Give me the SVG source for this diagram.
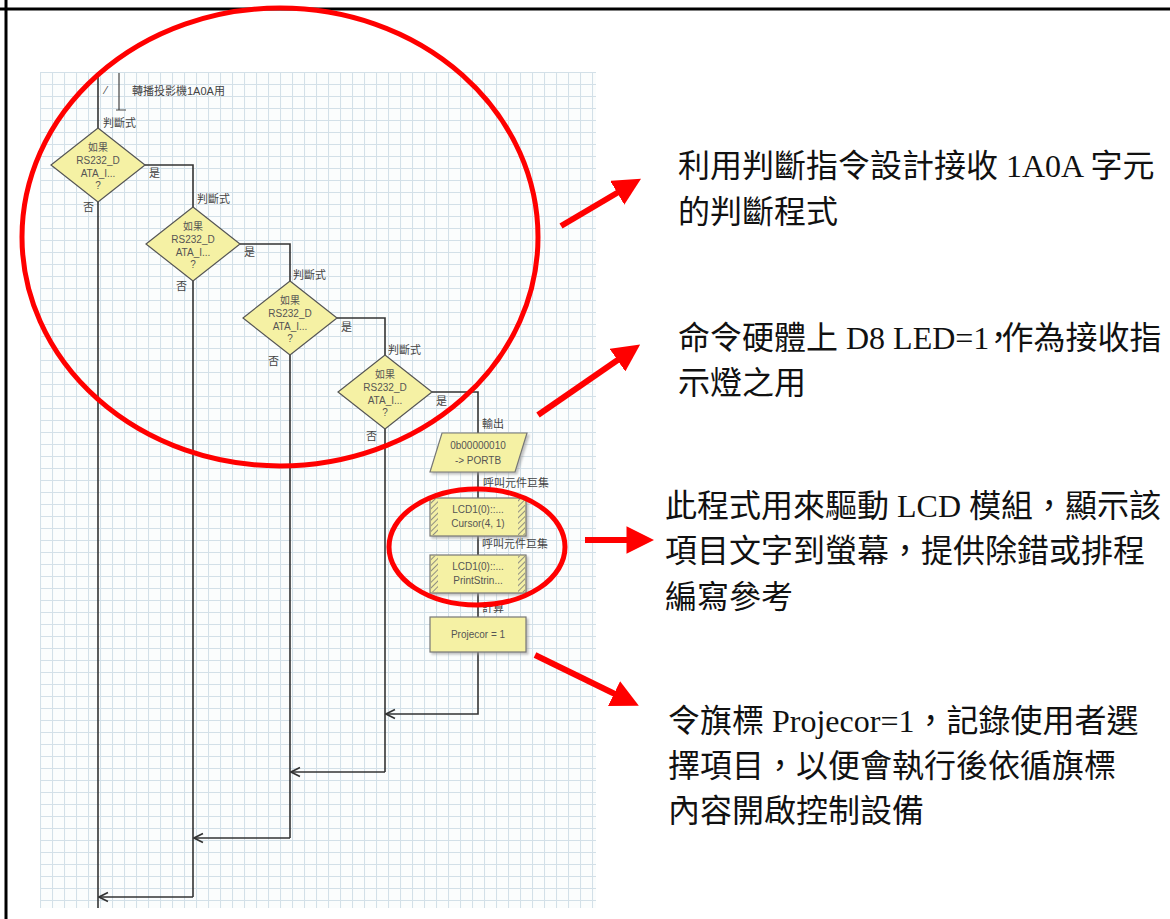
<svg xmlns="http://www.w3.org/2000/svg" width="1170" height="919" viewBox="0 0 1170 919">
<defs>
<pattern id="grid" x="40" y="72" width="12" height="12" patternUnits="userSpaceOnUse">
<path d="M0.5 0 V12 M0 0.5 H12" stroke="#d3e0e8" stroke-width="1.1" fill="none"/>
</pattern>
<pattern id="hatch" width="4" height="4" patternUnits="userSpaceOnUse" patternTransform="rotate(45)">
<rect width="4" height="4" fill="#f3efa6"/>
<line x1="0" y1="0" x2="0" y2="4" stroke="#777" stroke-width="1.6"/>
</pattern>
<marker id="chev" viewBox="0 0 10 10" refX="9" refY="5" markerWidth="7" markerHeight="7" orient="auto">
<path d="M1 1 L9 5 L1 9" fill="none" stroke="#333" stroke-width="1.5"/>
</marker>
<marker id="redhead" viewBox="0 0 10 10" refX="2" refY="5" markerWidth="4.6" markerHeight="4.6" orient="auto" markerUnits="strokeWidth">
<path d="M0 0 L10 5 L0 10 Z" fill="#ff0000"/>
</marker>
<filter id="sh" x="-10%" y="-10%" width="130%" height="140%">
<feDropShadow dx="2" dy="2" stdDeviation="1" flood-color="#999" flood-opacity="0.6"/>
</filter>
</defs>
<style>
.frame{stroke:#000;stroke-width:3;fill:none}
.dia{fill:#f5f1a4;stroke:#555;stroke-width:1.2}
.box{fill:#f5f1a4;stroke:#777;stroke-width:1.2}
.dt{font-family:"Liberation Sans","Noto Sans CJK TC",sans-serif;font-size:10px;fill:#555;text-anchor:middle}
.lb{font-family:"Liberation Sans","Noto Sans CJK TC",sans-serif;font-size:11px;fill:#444}
.wire{stroke:#333;stroke-width:1.6;fill:none}
.big{font-family:"Liberation Serif","Noto Sans CJK TC",serif;font-size:32px;fill:#111}
.red{stroke:#ff0000;stroke-width:5;fill:none}
.rarr{stroke:#ff0000;stroke-width:6;fill:none;marker-end:url(#redhead)}
</style>
<rect width="1170" height="919" fill="#fff"/>
<line class="frame" x1="0" y1="9" x2="1170" y2="9"/>
<line class="frame" x1="6" y1="0" x2="6" y2="919"/>

<g id="background-grid">
<rect x="40" y="72" width="556" height="836" fill="#fbfdfd"/>
<rect x="40" y="72" width="556" height="836" fill="url(#grid)"/>
</g>

<g id="connectors">
<path class="wire" d="M98 72 V128"/>
<path class="wire" d="M98 202 V908"/>
<path class="wire" d="M145 165 H193 V207"/>
<path class="wire" d="M240 244 H290 V281"/>
<path class="wire" d="M337 318 H385 V355"/>
<path class="wire" d="M432 392 H478 V433"/>
<path class="wire" d="M478 472 V498 M478 536 V555 M478 593 V617"/>
<path class="wire" d="M193 281 V897"/>
<path class="wire" d="M290 355 V838"/>
<path class="wire" d="M385 429 V772"/>
<path class="wire" d="M478 652 V714 H386" marker-end="url(#chev)"/>
<path class="wire" d="M385 772 H291" marker-end="url(#chev)"/>
<path class="wire" d="M290 838 H194" marker-end="url(#chev)"/>
<path class="wire" d="M193 897 H99" marker-end="url(#chev)"/>
<path d="M119 73 V110 M116 110 H126" stroke="#444" stroke-width="1.2" fill="none"/>
</g>

<g id="comment">
<text class="lb" x="105" y="94" font-size="10">⁄</text>
<text class="lb" x="132" y="95" font-size="12">轉播投影機1A0A用</text>
</g>

<g id="decision1">
<text class="lb" x="103" y="127">判斷式</text>
<polygon class="dia" points="98,128 145,165 98,202 51,165"/>
<text class="dt" x="98" y="151">如果</text>
<text class="dt" x="98" y="164">RS232_D</text>
<text class="dt" x="98" y="177">ATA_I...</text>
<text class="dt" x="98" y="189">?</text>
<text class="lb" x="149" y="177">是</text>
<text class="lb" x="83" y="211">否</text>
</g>

<g id="decision2">
<text class="lb" x="197" y="203">判斷式</text>
<polygon class="dia" points="193,207 240,244 193,281 146,244"/>
<text class="dt" x="193" y="230">如果</text>
<text class="dt" x="193" y="243">RS232_D</text>
<text class="dt" x="193" y="256">ATA_I...</text>
<text class="dt" x="193" y="268">?</text>
<text class="lb" x="244" y="256">是</text>
<text class="lb" x="176" y="290">否</text>
</g>

<g id="decision3">
<text class="lb" x="293" y="279">判斷式</text>
<polygon class="dia" points="290,281 337,318 290,355 243,318"/>
<text class="dt" x="290" y="304">如果</text>
<text class="dt" x="290" y="317">RS232_D</text>
<text class="dt" x="290" y="330">ATA_I...</text>
<text class="dt" x="290" y="342">?</text>
<text class="lb" x="341" y="331">是</text>
<text class="lb" x="268" y="365">否</text>
</g>

<g id="decision4">
<text class="lb" x="388" y="354">判斷式</text>
<polygon class="dia" points="385,355 432,392 385,429 338,392"/>
<text class="dt" x="385" y="378">如果</text>
<text class="dt" x="385" y="391">RS232_D</text>
<text class="dt" x="385" y="404">ATA_I...</text>
<text class="dt" x="385" y="416">?</text>
<text class="lb" x="436" y="405">是</text>
<text class="lb" x="366" y="440">否</text>
</g>

<g id="output">
<text class="lb" x="482" y="428">輸出</text>
<polygon class="box" filter="url(#sh)" points="442,433 527,433 515,472 430,472"/>
<text class="dt" x="478" y="449">0b00000010</text>
<text class="dt" x="478" y="464">-&gt; PORTB</text>
</g>

<g id="call1">
<text class="lb" x="483" y="487">呼叫元件巨集</text>
<rect class="box" filter="url(#sh)" x="430" y="498" width="96" height="38"/>
<rect x="431" y="499" width="7" height="36" fill="url(#hatch)"/>
<rect x="518" y="499" width="7" height="36" fill="url(#hatch)"/>
<text class="dt" x="478" y="513">LCD1(0)::...</text>
<text class="dt" x="478" y="527">Cursor(4, 1)</text>
</g>

<g id="call2">
<text class="lb" x="482" y="548">呼叫元件巨集</text>
<rect class="box" filter="url(#sh)" x="430" y="555" width="96" height="38"/>
<rect x="431" y="556" width="7" height="36" fill="url(#hatch)"/>
<rect x="518" y="556" width="7" height="36" fill="url(#hatch)"/>
<text class="dt" x="478" y="570">LCD1(0)::...</text>
<text class="dt" x="478" y="584">PrintStrin...</text>
</g>

<g id="calc">
<text class="lb" x="482" y="612">計算</text>
<rect class="box" filter="url(#sh)" x="430" y="617" width="96" height="35"/>
<text class="dt" x="478" y="638">Projecor = 1</text>
</g>

<g id="annotations">
<ellipse class="red" cx="280" cy="237" rx="258" ry="229"/>
<ellipse class="red" cx="477" cy="547" rx="88" ry="58"/>
<line class="rarr" x1="561" y1="226" x2="622" y2="190"/>
<line class="rarr" x1="538" y1="415" x2="622" y2="357"/>
<line class="rarr" x1="585" y1="540" x2="632" y2="540"/>
<line class="rarr" x1="535" y1="655" x2="619" y2="696"/>
</g>

<g id="text1">
<text class="big" x="678" y="177">利用判斷指令設計接收 1A0A 字元</text>
<text class="big" x="678" y="223">的判斷程式</text>
</g>
<g id="text2">
<text class="big" x="678" y="349">命令硬體上 D8 LED=1<tspan dx="-7">，</tspan><tspan dx="-13">作為接收指</tspan></text>
<text class="big" x="678" y="394">示燈之用</text>
</g>
<g id="text3">
<text class="big" x="665" y="517">此程式用來驅動 LCD 模組，顯示該</text>
<text class="big" x="665" y="562">項目文字到螢幕，提供除錯或排程</text>
<text class="big" x="665" y="608">編寫參考</text>
</g>
<g id="text4">
<text class="big" x="668" y="732">令旗標 Projecor=1，記錄使用者選</text>
<text class="big" x="668" y="777">擇項目，以便會執行後依循旗標</text>
<text class="big" x="668" y="822">內容開啟控制設備</text>
</g>
</svg>
